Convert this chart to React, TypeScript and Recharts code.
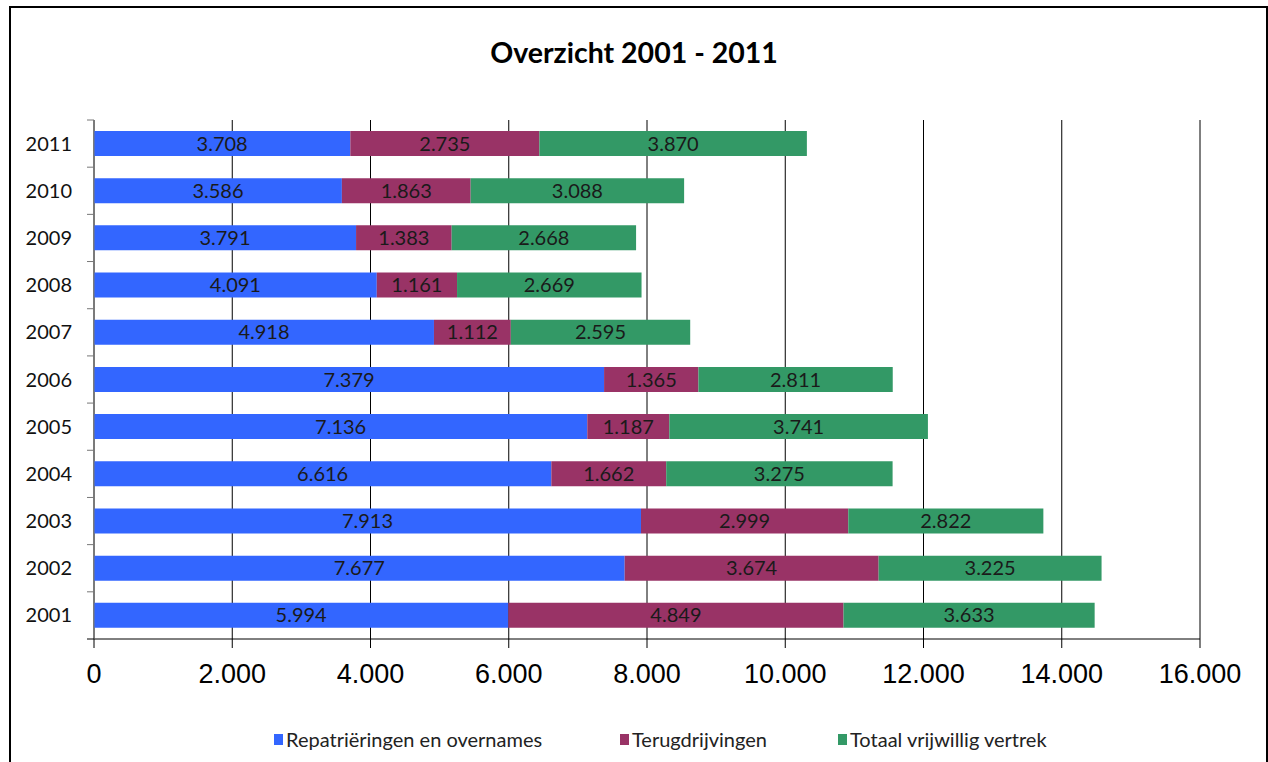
import { Bar, BarChart, CartesianGrid, LabelList, XAxis, YAxis } from "recharts"

const years = ["2001", "2002", "2003", "2004", "2005", "2006", "2007", "2008", "2009", "2010", "2011"]
const repatrieringen = [5994, 7677, 7913, 6616, 7136, 7379, 4918, 4091, 3791, 3586, 3708]
const terugdrijvingen = [4849, 3674, 2999, 1662, 1187, 1365, 1112, 1161, 1383, 1863, 2735]
const vrijwillig = [3633, 3225, 2822, 3275, 3741, 2811, 2595, 2669, 2668, 3088, 3870]
const xTicks = [0, 2000, 4000, 6000, 8000, 10000, 12000, 14000, 16000]

const series = [
  { key: "repatrieringen", name: "Repatriëringen en overnames", color: "#3366ff" },
  { key: "terugdrijvingen", name: "Terugdrijvingen", color: "#993366" },
  { key: "vrijwillig", name: "Totaal vrijwillig vertrek", color: "#339966" },
]

const data = years.map((year, i) => ({
  year,
  repatrieringen: repatrieringen[i],
  terugdrijvingen: terugdrijvingen[i],
  vrijwillig: vrijwillig[i],
}))

const fmt = (v: any) => String(v).replace(/\B(?=(\d{3})+(?!\d))/g, ".")

const W = 1268
const H = 762
const TOP = 120
const BOTTOM_OFFSET = 123
const BAND = (H - TOP - BOTTOM_OFFSET) / years.length

const YearTick = ({ x, y, payload }: any) => {
  const axisX = x + 8
  return (
    <g>
      <text x={x - 14} y={y} dy={7} textAnchor="end" fontSize={20} fill="#111" fontFamily="Lato">
        {payload.value}
      </text>
      <line x1={axisX - 7} x2={axisX} y1={y - BAND / 2} y2={y - BAND / 2} stroke="#777" />
      {payload.value === years[0] && (
        <line x1={axisX - 7} x2={axisX} y1={y + BAND / 2} y2={y + BAND / 2} stroke="#000" />
      )}
    </g>
  )
}

const ValueTick = ({ x, y, payload }: any) => (
  <text x={x} y={y} dy={33} textAnchor="middle" fontSize={27} fill="#000" fontFamily="Liberation Sans">
    {fmt(payload.value)}
  </text>
)

export default function App() {
  return (
    <div style={{ position: "absolute", left: 0, top: 0, width: W, height: H, background: "#fff", overflow: "hidden" }}>
      <div
        style={{
          position: "absolute",
          left: 9,
          top: 6,
          width: 1259,
          height: 800,
          border: "2px solid #000",
          boxSizing: "border-box",
        }}
      />
      <div
        style={{
          position: "absolute",
          left: 0,
          top: 35,
          width: W,
          textAlign: "center",
          fontFamily: "Lato",
          fontWeight: "bold",
          fontSize: 28.5,
          color: "#000",
        }}
      >
        Overzicht 2001 - 2011
      </div>
      <BarChart
        width={W}
        height={H}
        data={data}
        layout="vertical"
        margin={{ top: TOP, right: 68, left: 0, bottom: 63 }}
        style={{ position: "absolute", left: 0, top: 0 }}
      >
        <CartesianGrid horizontal={false} stroke="#000" />
        <XAxis
          type="number"
          domain={[0, 16000]}
          ticks={xTicks}
          height={60}
          axisLine={{ stroke: "#000" }}
          tickLine={{ stroke: "#000" }}
          tickSize={9}
          tick={<ValueTick />}
          interval={0}
        />
        <YAxis
          type="category"
          dataKey="year"
          reversed
          width={94}
          axisLine={{ stroke: "#777" }}
          tickLine={false}
          tick={<YearTick />}
          interval={0}
        />
        {series.map((s) => (
          <Bar key={s.key} dataKey={s.key} name={s.name} stackId="a" fill={s.color} barSize={25} isAnimationActive={false}>
            <LabelList
              dataKey={s.key}
              position="center"
              formatter={fmt}
              style={{ fontSize: 20, fill: "#1a1a1a", fontFamily: "Lato" }}
            />
          </Bar>
        ))}
      </BarChart>
      <div
        style={{
          position: "absolute",
          top: 727,
          left: 0,
          width: W,
          fontFamily: "Lato",
          fontSize: 20,
          color: "#222",
        }}
      >
        {series.map((s, i) => (
          <div
            key={s.key}
            style={{ position: "absolute", left: [274, 620, 838][i], display: "flex", alignItems: "center", whiteSpace: "nowrap" }}
          >
            <span style={{ display: "inline-block", width: 9, height: 11, background: s.color, marginRight: 3 }} />
            {s.name}
          </div>
        ))}
      </div>
    </div>
  )
}
